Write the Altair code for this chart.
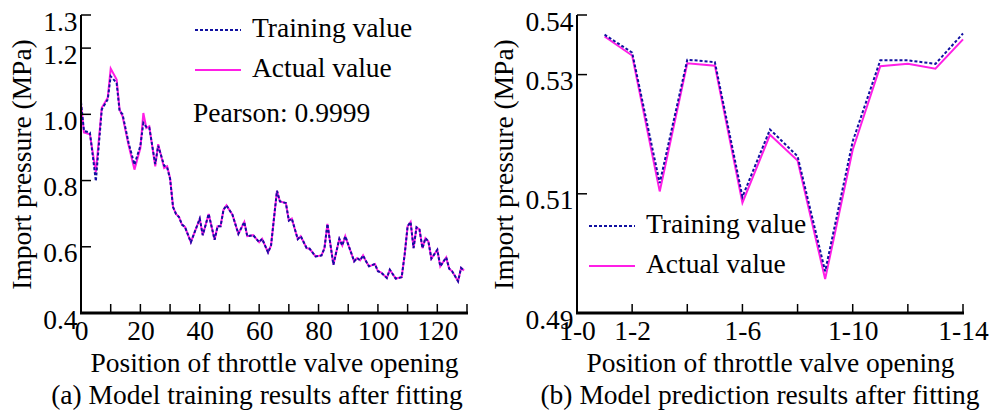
import altair as alt
import pandas as pd

FONT = "Liberation Serif"
BLUE = "#1010a0"
MAGENTA = "#ff1ee6"

# ---- (a) training set: throttle position vs import pressure (MPa)
train_pos = [0, 1, 3, 5, 7, 9, 10, 12, 13, 14, 16, 18, 20, 21, 22, 23, 25, 26, 28, 29,
             30, 31, 32, 33, 34, 35, 37, 40, 41, 43, 45, 46, 47, 48, 49, 51, 53, 55, 56, 58,
             60, 61, 63, 64, 66, 67, 69, 70, 71, 73, 74, 76, 77, 79, 81, 82, 83, 85, 87, 88,
             89, 92, 93, 94, 95, 96, 97, 99, 100, 101, 103, 104, 106, 108, 109, 110, 111, 112, 113, 114,
             115, 116, 117, 118, 120, 121, 123, 124, 125, 127, 128, 129]
train_actual = [1.030, 0.945, 0.940, 0.825, 1.020, 1.050, 1.138, 1.105, 1.014, 0.994, 0.908, 0.833, 0.898, 1.004, 0.959, 0.964, 0.843, 0.910, 0.838, 0.843,
                0.808, 0.720, 0.699, 0.690, 0.667, 0.660, 0.614, 0.685, 0.635, 0.699, 0.621, 0.662, 0.662, 0.712, 0.725, 0.697, 0.639, 0.675, 0.632, 0.635,
                0.614, 0.624, 0.583, 0.604, 0.769, 0.737, 0.732, 0.679, 0.685, 0.623, 0.632, 0.596, 0.594, 0.571, 0.574, 0.596, 0.669, 0.546, 0.624, 0.604,
                0.632, 0.556, 0.566, 0.559, 0.574, 0.556, 0.541, 0.548, 0.526, 0.523, 0.506, 0.531, 0.504, 0.508, 0.576, 0.662, 0.675, 0.596, 0.659, 0.652,
                0.596, 0.626, 0.616, 0.564, 0.591, 0.541, 0.568, 0.534, 0.526, 0.496, 0.536, 0.528]
train_fitted = [1.037, 0.950, 0.945, 0.798, 1.015, 1.045, 1.115, 1.095, 1.010, 1.000, 0.915, 0.848, 0.905, 0.974, 0.962, 0.960, 0.850, 0.905, 0.845, 0.840,
                0.805, 0.720, 0.699, 0.690, 0.667, 0.660, 0.614, 0.685, 0.635, 0.699, 0.621, 0.662, 0.662, 0.712, 0.725, 0.697, 0.639, 0.675, 0.632, 0.635,
                0.614, 0.624, 0.583, 0.604, 0.769, 0.737, 0.732, 0.679, 0.685, 0.623, 0.632, 0.596, 0.594, 0.571, 0.574, 0.596, 0.669, 0.546, 0.624, 0.604,
                0.632, 0.556, 0.566, 0.559, 0.574, 0.556, 0.541, 0.548, 0.526, 0.523, 0.506, 0.531, 0.504, 0.508, 0.576, 0.662, 0.675, 0.596, 0.659, 0.652,
                0.596, 0.626, 0.616, 0.564, 0.591, 0.541, 0.568, 0.534, 0.526, 0.496, 0.536, 0.528]

# ---- (b) prediction set
test_pos = [1, 2, 3, 4, 5, 6, 7, 8, 9, 10, 11, 12, 13, 14]
test_actual = [0.5364, 0.5332, 0.5104, 0.5319, 0.5315, 0.5085, 0.5199, 0.5156, 0.4957, 0.5174,
               0.5314, 0.5318, 0.5310, 0.5359]
test_fitted = [0.5367, 0.5337, 0.5118, 0.5325, 0.5321, 0.5095, 0.5208, 0.5163, 0.4970, 0.5188,
               0.5324, 0.5324, 0.5318, 0.5369]

# axis ticks and labels
a_xticks = [0, 10, 20, 30, 40, 50, 60, 70, 80, 90, 100, 110, 120, 130]
a_xlabels = [0, 20, 40, 60, 80, 100, 120]
a_yticks = [0.4, 0.6, 0.8, 1.0, 1.2, 1.3]
b_xticks = [0, 2, 4, 6, 8, 10, 12, 14]
b_xlabels = [0, 2, 6, 10, 14]
b_yticks = [0.49, 0.51, 0.53, 0.54]

legend_labels = ["Training value", "Actual value"]
pearson_text = "Pearson: 0.9999"
x_title = "Position of throttle valve opening"
y_title = "Import pressure (MPa)"
cap_a = "(a) Model training results after fitting"
cap_b = "(b) Model prediction results after fitting"

W, H = 386, 298
TICK = 9
FS = 27.5


def panel(pos, actual, fitted, xdom, ydom, xticks, xlabels, yticks, yfmt, xexpr,
          caption, caption_dx, legend_xy, pearson=None):
    df = pd.DataFrame({"pos": pos, "actual": actual, "fitted": fitted})
    xs = alt.Scale(domain=xdom, nice=False, zero=False)
    ys = alt.Scale(domain=ydom, nice=False, zero=False)
    xaxis = alt.Axis(values=xlabels, tickSize=0, labelExpr=xexpr, title=x_title,
                     labelPadding=4, titlePadding=5, grid=False, domain=False)
    yaxis = alt.Axis(values=yticks, tickSize=0, format=yfmt, title=y_title,
                     labelPadding=4, titlePadding=6, grid=False, labelOffset=7, domain=False)
    X = lambda f: alt.X(f, scale=xs, axis=xaxis)
    Y = lambda f: alt.Y(f, scale=ys, axis=yaxis)

    base = alt.Chart(df)
    act = base.mark_line(color=MAGENTA, strokeWidth=2).encode(x=X("pos:Q"), y=Y("actual:Q"))
    fit = base.mark_line(color=BLUE, strokeWidth=2, strokeDash=[3, 2]).encode(
        x=X("pos:Q"), y=Y("fitted:Q"))

    # axis frame: bottom and left lines as thin filled bars, plus inward ticks
    one = pd.DataFrame({"k": [0]})
    xline = alt.Chart(one).mark_rect(color="black").encode(
        x=alt.value(-1), x2=alt.value(W + 1), y=alt.value(H - 1.5), y2=alt.value(H + 1.5))
    yline = alt.Chart(one).mark_rect(color="black").encode(
        x=alt.value(-1), x2=alt.value(1), y=alt.value(0), y2=alt.value(H + 1))
    xt = alt.Chart(pd.DataFrame({"pos": xticks})).mark_rule(color="black", strokeWidth=1.5).encode(
        x=X("pos:Q"), y=alt.value(H), y2=alt.value(H - TICK))
    yt = alt.Chart(pd.DataFrame({"actual": yticks})).mark_rule(color="black", strokeWidth=1.5).encode(
        y=Y("actual:Q"), x=alt.value(0), x2=alt.value(TICK + 1))

    lx, ly, gap = legend_xy
    leg_fit = alt.Chart(one).mark_rule(color=BLUE, strokeWidth=2, strokeDash=[3, 2]).encode(
        x=alt.value(lx), x2=alt.value(lx + 46), y=alt.value(ly))
    leg_act = alt.Chart(one).mark_rule(color=MAGENTA, strokeWidth=2).encode(
        x=alt.value(lx), x2=alt.value(lx + 46), y=alt.value(ly + gap))
    txt = dict(font=FONT, fontSize=FS, align="left", baseline="middle", color="black")
    leg_t1 = alt.Chart(pd.DataFrame({"t": [legend_labels[0]]})).mark_text(**txt).encode(
        text="t:N", x=alt.value(lx + 57), y=alt.value(ly - 1))
    leg_t2 = alt.Chart(pd.DataFrame({"t": [legend_labels[1]]})).mark_text(**txt).encode(
        text="t:N", x=alt.value(lx + 57), y=alt.value(ly + gap - 1))
    layers = [act, fit, yline, xt, yt, leg_fit, leg_act, leg_t1, leg_t2]
    if pearson:
        px, py = pearson
        layers.append(alt.Chart(pd.DataFrame({"t": [pearson_text]})).mark_text(**txt).encode(
            text="t:N", x=alt.value(px), y=alt.value(py)))
    layers.append(xline)
    return alt.layer(*layers).properties(
        width=W, height=H,
        title=alt.TitleParams(caption, orient="bottom", font=FONT, fontSize=FS,
                              fontWeight="normal", offset=5, dx=caption_dx, color="black"))


left = panel(train_pos, train_actual, train_fitted, [0, 130], [0.4, 1.3], a_xticks, a_xlabels,
             a_yticks, ".1f", "datum.label", cap_a, -17, (114, 15, 40), pearson=(112, 99))
right = panel(test_pos, test_actual, test_fitted, [0, 14], [0.49, 0.54], b_xticks, b_xlabels,
              b_yticks, ".2f", "'1-' + datum.label", cap_b, -10, (12, 211, 40))

chart = alt.hconcat(left, right, spacing=21).properties(
    padding={"left": 8, "top": 8, "right": 5, "bottom": 5}
).configure_view(stroke=None).configure_axis(
    labelFont=FONT, titleFont=FONT, labelFontSize=FS, titleFontSize=FS,
    titleFontWeight="normal", labelColor="black", titleColor="black", labelFlush=False
).configure_title(font=FONT)

chart.save("out.html", embed_options={"renderer": "svg", "actions": False})
